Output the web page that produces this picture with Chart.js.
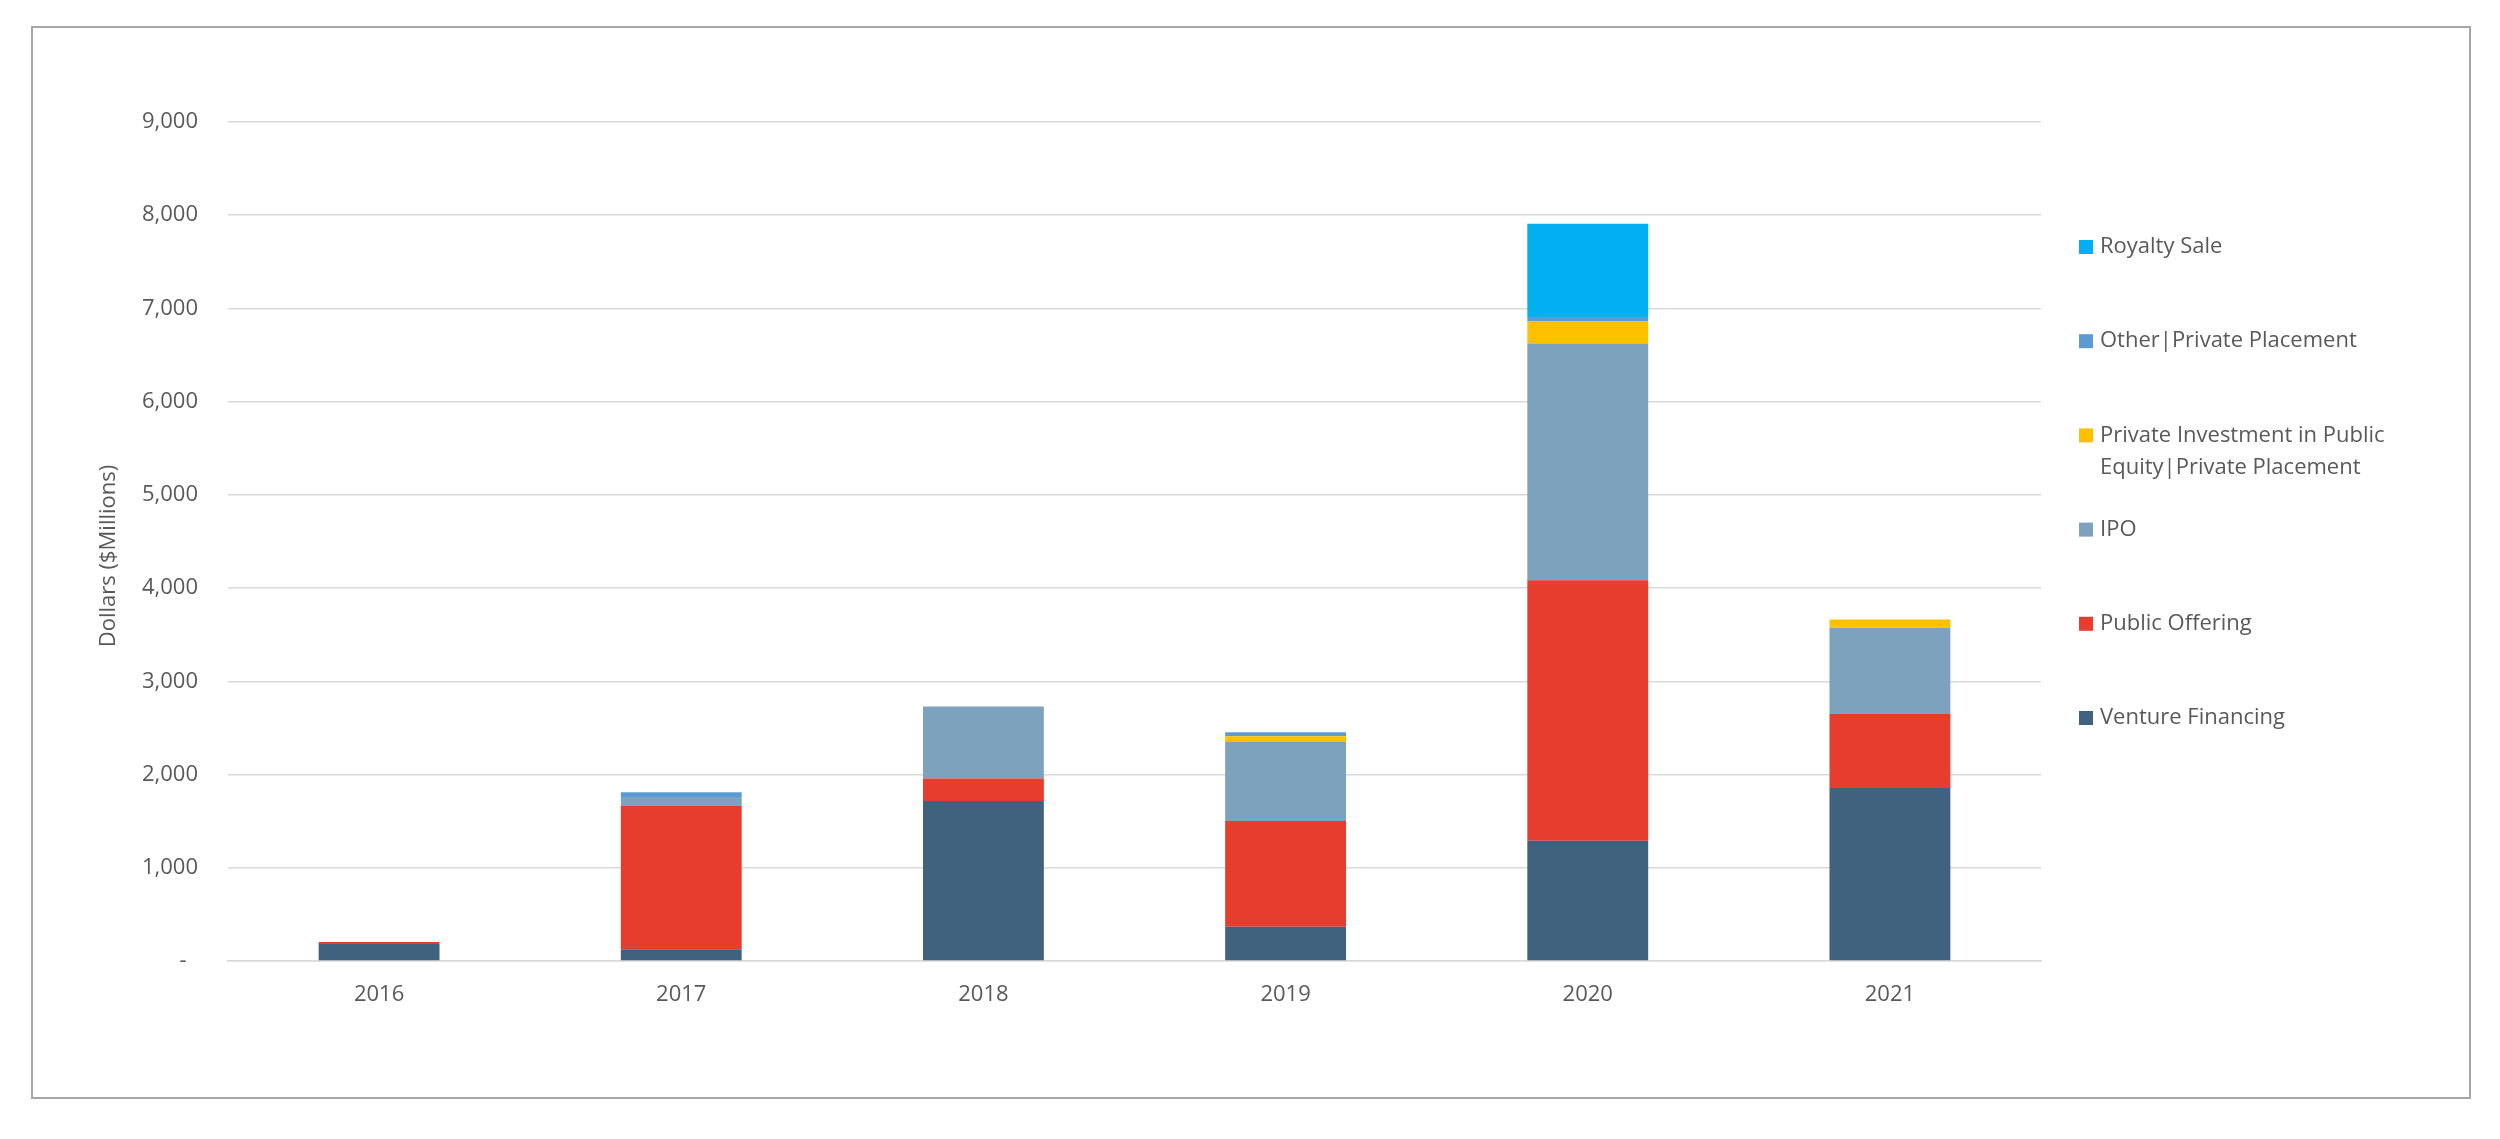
<!DOCTYPE html>
<html><head><meta charset="utf-8">
<script src="https://cdn.jsdelivr.net/npm/chart.js@4.4.0/dist/chart.umd.min.js"></script>
<style>
html,body{margin:0;padding:0;background:#fff;width:2500px;height:1139px;overflow:hidden}
#frame{position:absolute;left:31px;top:26px;width:2440px;height:1073px;box-sizing:border-box;border:2px solid #a6a6a6;background:#fff}
#frame canvas{display:block}
</style></head><body>
<div id="frame"><canvas id="c" width="2436" height="1069"></canvas></div>
<script>
// ---- data ----
const categories = ['2016', '2017', '2018', '2019', '2020', '2021'];
const ventureFinancing      = [182, 125, 1716, 367, 1289, 1856];
const publicOffering        = [22, 1538, 243, 1135, 2796, 793];
const ipo                   = [0, 96, 771, 846, 2538, 926];
const pipePrivatePlacement  = [0, 0, 0, 64, 236, 89];
const otherPrivatePlacement = [0, 50, 0, 43, 50, 0];
const royaltySale           = [0, 0, 0, 0, 1000, 0];
const seriesNames = ['Venture Financing', 'Public Offering', 'IPO',
  'Private Investment in Public Equity|Private Placement', 'Other|Private Placement', 'Royalty Sale'];
const yTickLabels = ['-  ', '1,000', '2,000', '3,000', '4,000', '5,000', '6,000', '7,000', '8,000', '9,000'];
const yAxisTitle = 'Dollars ($Millions)';

// ---- styling ----
const seriesColors = ['#41627E', '#E73D2F', '#7DA2BD', '#FFC000', '#5B9BD5', '#00B0F0'];
const FONT = '"Open Sans", "Liberation Sans", sans-serif';
const TEXT = '#595959';
const GRID = '#d9d9d9';

function wrapText(ctx, text, maxW) {
  const words = text.split(' ');
  const lines = [];
  let cur = '';
  words.forEach(w => {
    const t = cur ? cur + ' ' + w : w;
    if (cur && ctx.measureText(t).width > maxW) { lines.push(cur); cur = w; }
    else cur = t;
  });
  if (cur) lines.push(cur);
  return lines;
}

const sideLegend = {
  id: 'sideLegend',
  afterDraw(chart) {
    const ctx = chart.ctx, area = chart.chartArea;
    const items = chart.data.datasets.slice().reverse();
    ctx.save();
    ctx.font = '22px ' + FONT;
    ctx.textBaseline = 'middle';
    ctx.textAlign = 'left';
    items.forEach((d, i) => {
      const y = area.top + 125 + i * 94.2;
      ctx.fillStyle = d.backgroundColor;
      ctx.fillRect(area.right + 38, y - 7, 14, 14);
      ctx.fillStyle = TEXT;
      wrapText(ctx, d.label, 310).forEach((ln, j) => ctx.fillText(ln, area.right + 59, y + j * 32));
    });
    // rotated y-axis title
    ctx.translate(area.left - 119, area.top + 434);
    ctx.rotate(-Math.PI / 2);
    ctx.textAlign = 'center';
    ctx.fillStyle = TEXT;
    ctx.fillText(yAxisTitle, 0, 0);
    ctx.restore();
  }
};

const seriesValues = [ventureFinancing, publicOffering, ipo, pipePrivatePlacement, otherPrivatePlacement, royaltySale];

function build() {
  new Chart(document.getElementById('c'), {
    type: 'bar',
    data: {
      labels: categories,
      datasets: seriesValues.map((vals, i) => ({
        label: seriesNames[i],
        data: vals,
        backgroundColor: seriesColors[i],
        borderWidth: 0,
        barPercentage: 0.4,
        categoryPercentage: 1.0
      }))
    },
    options: {
      responsive: false,
      animation: false,
      devicePixelRatio: 1,
      layout: { padding: { left: 0, top: 94, right: 428, bottom: 0 } },
      plugins: { legend: { display: false }, tooltip: { enabled: false } },
      scales: {
        x: {
          stacked: true,
          grid: { display: false, drawTicks: false },
          border: { display: true, color: GRID, width: 1.5 },
          ticks: { color: TEXT, font: { family: FONT, size: 22 }, padding: 21 },
          afterFit: s => { s.height = 136; }
        },
        y: {
          stacked: true,
          min: 0, max: 9000,
          ticks: {
            stepSize: 1000,
            color: TEXT,
            font: { family: FONT, size: 22 },
            padding: 30,
            callback: (v, idx) => yTickLabels[idx]
          },
          grid: { color: GRID, lineWidth: 1.5, drawTicks: false },
          border: { display: false },
          title: { display: false, text: yAxisTitle },
          afterFit: s => { s.width = 195; }
        }
      }
    },
    plugins: [sideLegend]
  });
}
if (document.fonts && document.fonts.load) {
  document.fonts.load('22px "Open Sans"').then(build, build);
} else build();
</script>
</body></html>
